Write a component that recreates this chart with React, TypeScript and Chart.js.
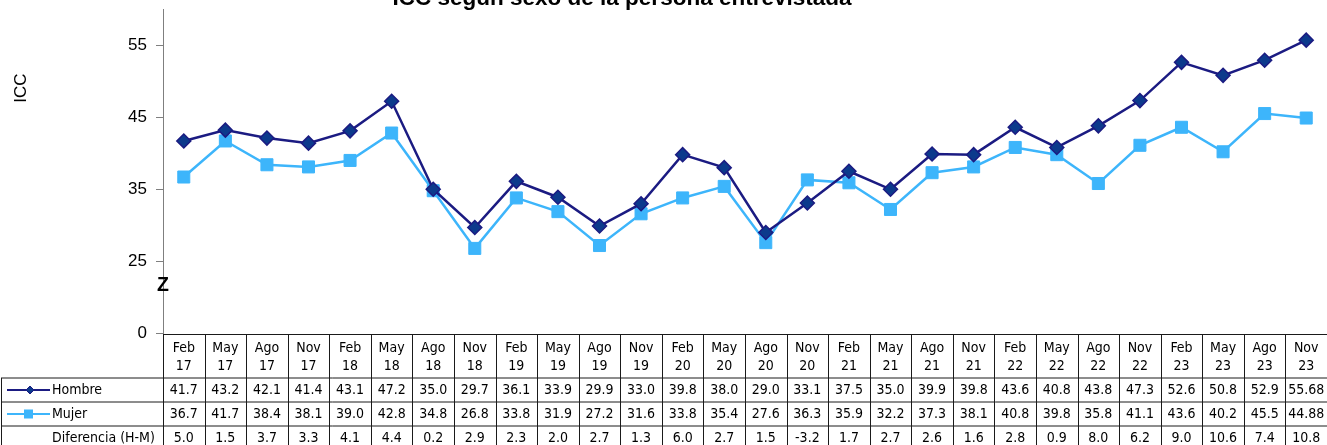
import React, { useEffect, useRef } from 'react';
import { Chart, registerables } from 'chart.js';

Chart.register(...registerables);

const categories = [
  'Feb 17', 'May 17', 'Ago 17', 'Nov 17', 'Feb 18', 'May 18', 'Ago 18', 'Nov 18',
  'Feb 19', 'May 19', 'Ago 19', 'Nov 19', 'Feb 20', 'May 20', 'Ago 20', 'Nov 20',
  'Feb 21', 'May 21', 'Ago 21', 'Nov 21', 'Feb 22', 'May 22', 'Ago 22', 'Nov 22',
  'Feb 23', 'May 23', 'Ago 23', 'Nov 23',
];

const hombre = [
  41.7, 43.2, 42.1, 41.4, 43.1, 47.2, 35.0, 29.7, 36.1, 33.9, 29.9, 33.0, 39.8, 38.0,
  29.0, 33.1, 37.5, 35.0, 39.9, 39.8, 43.6, 40.8, 43.8, 47.3, 52.6, 50.8, 52.9, 55.68,
];

const mujer = [
  36.7, 41.7, 38.4, 38.1, 39.0, 42.8, 34.8, 26.8, 33.8, 31.9, 27.2, 31.6, 33.8, 35.4,
  27.6, 36.3, 35.9, 32.2, 37.3, 38.1, 40.8, 39.8, 35.8, 41.1, 43.6, 40.2, 45.5, 44.88,
];

const diferencia = [
  5.0, 1.5, 3.7, 3.3, 4.1, 4.4, 0.2, 2.9, 2.3, 2.0, 2.7, 1.3, 6.0, 2.7,
  1.5, -3.2, 1.7, 2.7, 2.6, 1.6, 2.8, 0.9, 8.0, 6.2, 9.0, 10.6, 7.4, 10.8,
];

// axis break: the value 15 is shown as "0"
const yTickValues = [15, 25, 35, 45, 55];
const yTickLabels = ['0', '25', '35', '45', '55'];

const titleText = 'ICC según sexo de la persona entrevistada';
const yTitle = 'ICC';
const rowNames = ['Hombre', 'Mujer', 'Diferencia (H-M)'];

const HOMBRE_LINE = '#1b1b82';
const HOMBRE_FILL = '#0c3a8c';
const MUJER_COLOR = '#3db5fb';
const TABLE_FONT = '14px "DejaVu Sans Condensed", "DejaVu Sans", sans-serif';

function fmt(v: number): string {
  const s = v.toFixed(2);
  return s.endsWith('0') ? v.toFixed(1) : s;
}

const decorPlugin = {
  id: 'decor',
  afterDraw(chart: any) {
    const ctx: CanvasRenderingContext2D = chart.ctx;
    const area = chart.chartArea;
    const xs = chart.scales.x;
    const ys = chart.scales.y;
    const n = categories.length;
    const colW = (area.right - area.left) / n;
    const H = chart.height;
    const top = Math.round(ys.getPixelForValue(15)) + 0.5;
    const headerBottom = top + 43.5;
    const rowH = 24;

    ctx.save();
    // Title
    ctx.fillStyle = '#000';
    ctx.font = 'bold 22.5px "Liberation Sans", Arial, sans-serif';
    ctx.textAlign = 'center';
    ctx.textBaseline = 'alphabetic';
    ctx.fillText(titleText, 622, 4.5);

    // Y axis title
    ctx.save();
    ctx.translate(21, 88);
    ctx.rotate(-Math.PI / 2);
    ctx.font = '17px "Liberation Sans", Arial, sans-serif';
    ctx.textAlign = 'center';
    ctx.textBaseline = 'middle';
    ctx.fillText(yTitle, 0, 0);
    ctx.restore();

    // Table lines
    ctx.strokeStyle = '#1a1a1a';
    ctx.lineWidth = 1;
    ctx.beginPath();
    ctx.moveTo(area.left, top);
    ctx.lineTo(area.right, top);
    for (let r = 0; r < 4; r++) {
      const y = headerBottom + r * rowH;
      ctx.moveTo(1, y);
      ctx.lineTo(area.right, y);
    }
    for (let i = 0; i <= n; i++) {
      const xb = Math.round(area.left + i * colW) + 0.5;
      ctx.moveTo(xb, top);
      ctx.lineTo(xb, H);
    }
    ctx.moveTo(1.5, headerBottom);
    ctx.lineTo(1.5, H);
    ctx.stroke();

    // Header labels & values
    ctx.font = TABLE_FONT;
    ctx.textAlign = 'center';
    ctx.textBaseline = 'middle';
    ctx.fillStyle = '#000';
    const rows = [hombre, mujer, diferencia];
    for (let i = 0; i < n; i++) {
      const cx = xs.getPixelForValue(i);
      const [m, yy] = categories[i].split(' ');
      ctx.fillText(m, cx, top + 13.5);
      ctx.fillText(yy, cx, top + 31.5);
      rows.forEach((arr, r) => {
        ctx.fillText(fmt(arr[i]), cx, headerBottom + r * rowH + rowH / 2);
      });
    }

    // Legend column
    ctx.textAlign = 'left';
    rowNames.forEach((name, r) => {
      ctx.fillText(name, 52, headerBottom + r * rowH + rowH / 2);
    });
    // Hombre legend
    let ly = headerBottom + rowH / 2;
    ctx.strokeStyle = HOMBRE_LINE;
    ctx.lineWidth = 2;
    ctx.beginPath();
    ctx.moveTo(7, ly);
    ctx.lineTo(50, ly);
    ctx.stroke();
    ctx.fillStyle = HOMBRE_FILL;
    ctx.beginPath();
    ctx.moveTo(30, ly - 4);
    ctx.lineTo(34, ly);
    ctx.lineTo(30, ly + 4);
    ctx.lineTo(26, ly);
    ctx.closePath();
    ctx.fill();
    ctx.strokeStyle = HOMBRE_LINE;
    ctx.lineWidth = 1;
    ctx.stroke();
    // Mujer legend
    ly = headerBottom + rowH + rowH / 2;
    ctx.strokeStyle = MUJER_COLOR;
    ctx.lineWidth = 2;
    ctx.beginPath();
    ctx.moveTo(7, ly);
    ctx.lineTo(50, ly);
    ctx.stroke();
    ctx.fillStyle = MUJER_COLOR;
    ctx.fillRect(24, ly - 4.5, 9, 9);

    // Axis break mark
    ctx.fillStyle = '#000';
    ctx.font = 'bold 19.5px "Liberation Sans", Arial, sans-serif';
    ctx.textAlign = 'center';
    ctx.textBaseline = 'middle';
    ctx.fillText('Z', area.left, 286);
    ctx.restore();
  },
};

export default function App() {
  const ref = useRef<HTMLCanvasElement | null>(null);

  useEffect(() => {
    document.body.style.margin = '0';
    const canvas = ref.current;
    if (!canvas) return;
    const chart = new Chart(canvas, {
      type: 'line',
      data: {
        labels: categories,
        datasets: [
          {
            label: 'Hombre',
            data: hombre,
            borderColor: HOMBRE_LINE,
            borderWidth: 2.5,
            pointStyle: 'rectRot',
            pointRadius: 7,
            pointBackgroundColor: HOMBRE_FILL,
            pointBorderColor: HOMBRE_LINE,
            pointBorderWidth: 1.5,
            tension: 0,
            clip: false,
          },
          {
            label: 'Mujer',
            data: mujer,
            borderColor: MUJER_COLOR,
            borderWidth: 2.5,
            pointStyle: 'rect',
            pointRadius: 8.5,
            pointBackgroundColor: MUJER_COLOR,
            pointBorderColor: MUJER_COLOR,
            pointBorderWidth: 1,
            tension: 0,
            clip: false,
          },
        ],
      },
      options: {
        responsive: false,
        devicePixelRatio: 1,
        animation: false,
        layout: { autoPadding: false, padding: { top: 9, bottom: 111.5, left: 0, right: 0 } },
        plugins: {
          legend: { display: false },
          title: { display: false },
          tooltip: { enabled: false },
        },
        scales: {
          x: {
            type: 'category',
            offset: true,
            display: false,
          },
          y: {
            min: 15,
            max: 60,
            afterFit: (scale: any) => {
              scale.width = 163;
              scale.paddingTop = 0;
              scale.paddingBottom = 0;
            },
            afterBuildTicks: (scale: any) => {
              scale.ticks = yTickValues.map((v) => ({ value: v }));
            },
            ticks: {
              padding: 9,
              color: '#000',
              font: { family: '"Liberation Sans", Arial, sans-serif', size: 17 },
              callback: (v: any) => {
                const idx = yTickValues.indexOf(Number(v));
                return idx >= 0 ? yTickLabels[idx] : '';
              },
            },
            grid: {
              drawOnChartArea: false,
              drawTicks: true,
              tickLength: 7,
              color: '#7f7f7f',
            },
            border: { display: true, color: '#7f7f7f', width: 1 },
          },
        },
      },
      plugins: [decorPlugin],
    });
    return () => chart.destroy();
  }, []);

  return (
    <canvas
      ref={ref}
      width={1327}
      height={445}
      style={{ display: 'block', width: '1327px', height: '445px' }}
    />
  );
}
